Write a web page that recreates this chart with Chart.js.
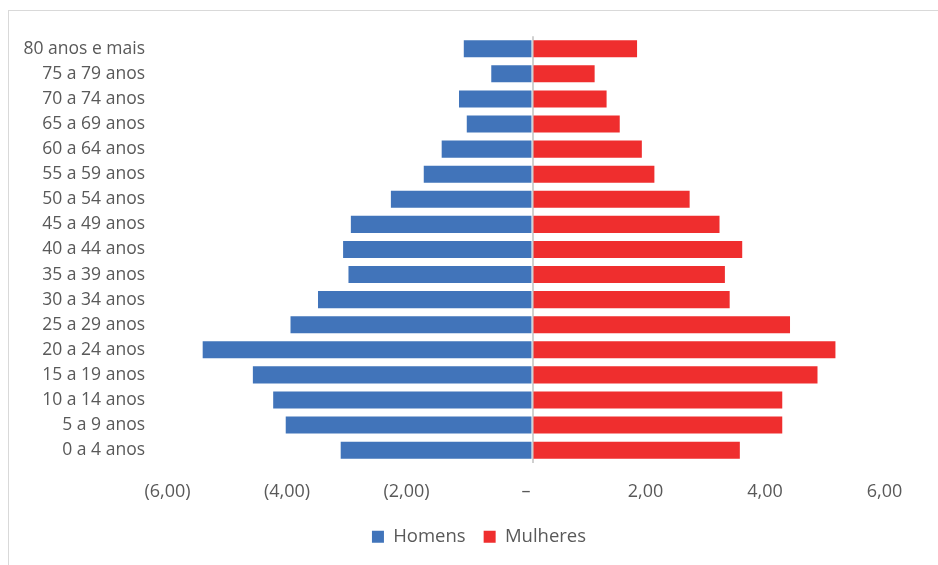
<!DOCTYPE html>
<html>
<head>
<meta charset="utf-8">
<script src="https://cdn.jsdelivr.net/npm/chart.js@4.4.1/dist/chart.umd.min.js"></script>
<style>
  html, body { margin: 0; padding: 0; background: #ffffff; }
  #wrap { position: relative; width: 938px; height: 565px; overflow: hidden; }
  #frame { position: absolute; left: 8px; top: 10px; width: 960px; height: 600px;
           border-left: 1px solid #d9d9d9; border-top: 1px solid #d9d9d9; }
  canvas { position: absolute; left: 0; top: 0; }
</style>
</head>
<body>
<div id="wrap">
  <div id="frame"></div>
  <canvas id="chart" width="938" height="565"></canvas>
</div>
<script>
// Faixas etárias, de cima para baixo
const faixas = [
  "80 anos e mais", "75 a 79 anos", "70 a 74 anos", "65 a 69 anos",
  "60 a 64 anos", "55 a 59 anos", "50 a 54 anos", "45 a 49 anos",
  "40 a 44 anos", "35 a 39 anos", "30 a 34 anos", "25 a 29 anos",
  "20 a 24 anos", "15 a 19 anos", "10 a 14 anos", "5 a 9 anos", "0 a 4 anos"
];

// Percentual da população por sexo (homens à esquerda, valores negativos)
const homens = [
  -1.15, -0.69, -1.23, -1.10, -1.52, -1.82, -2.37, -3.04,
  -3.17, -3.08, -3.59, -4.05, -5.52, -4.68, -4.34, -4.13, -3.21
];
const mulheres = [
  1.75, 1.04, 1.24, 1.46, 1.83, 2.04, 2.63, 3.13,
  3.51, 3.22, 3.30, 4.31, 5.07, 4.77, 4.18, 4.18, 3.47
];

const eixoMin = -6;
const eixoMax = 6;
const eixoPasso = 2;

const fonte = "'Open Sans', 'DejaVu Sans', sans-serif";
const corTexto = "#595959";

function formatoContabil(v) {
  if (v === 0) return "–";
  const s = Math.abs(v).toFixed(2).replace(".", ",");
  return v < 0 ? "(" + s + ")" : s;
}

// Desloca a legenda para a direita, centrando-a sob o gráfico como um todo
const deslocaLegenda = {
  id: "deslocaLegenda",
  afterLayout(chart) {
    if (chart.legend) chart.legend.left += 67;
  }
};

new Chart(document.getElementById("chart"), {
  type: "bar",
  data: {
    labels: faixas,
    datasets: [
      { label: "Homens", data: homens, backgroundColor: "#4174ba",
        borderWidth: 0, barPercentage: 0.68, categoryPercentage: 1 },
      { label: "Mulheres", data: mulheres, backgroundColor: "#ef2e2e",
        borderWidth: 0, barPercentage: 0.68, categoryPercentage: 1 }
    ]
  },
  plugins: [deslocaLegenda],
  options: {
    indexAxis: "y",
    responsive: false,
    animation: false,
    layout: { padding: { left: 0, right: 47, top: 36.2, bottom: 9 } },
    scales: {
      x: {
        stacked: true,
        min: eixoMin,
        max: eixoMax,
        z: 1,
        border: { display: false },
        grid: {
          drawTicks: false,
          lineWidth: 2,
          color: (ctx) => (ctx.tick && ctx.tick.value === 0 ? "#d0d0d0" : "rgba(0,0,0,0)")
        },
        ticks: {
          stepSize: eixoPasso,
          padding: 18.1,
          labelOffset: -6.5,
          color: corTexto,
          font: { family: fonte, size: 18 },
          callback: (v) => formatoContabil(v)
        },
        afterFit: (scale) => { scale.height = 46.8; }
      },
      y: {
        stacked: true,
        border: { display: false },
        grid: { display: false, drawTicks: false },
        ticks: {
          padding: 29,
          color: corTexto,
          font: { family: fonte, size: 17.5 }
        },
        afterFit: (scale) => {
          scale.width = 174;
          scale.paddingTop = 0;
          scale.paddingBottom = 0;
        }
      }
    },
    plugins: {
      legend: {
        position: "bottom",
        labels: {
          boxWidth: 12,
          boxHeight: 12,
          padding: 18,
          color: corTexto,
          font: { family: fonte, size: 18.5 }
        }
      },
      tooltip: { enabled: false }
    }
  }
});
</script>
</body>
</html>
